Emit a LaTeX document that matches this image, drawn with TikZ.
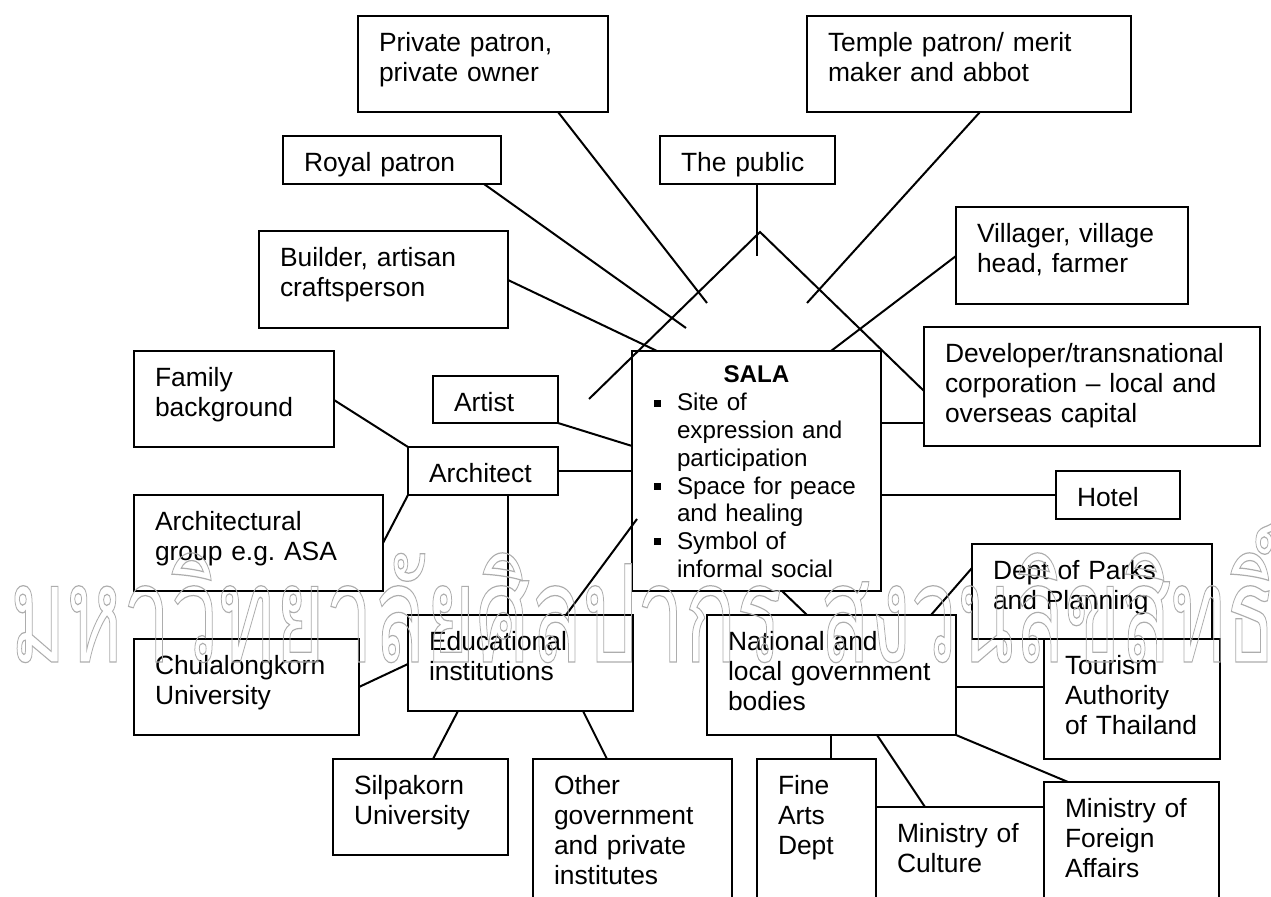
\documentclass[tikz,border=0pt]{standalone}
\usepackage{fontspec}
\setmainfont{Liberation Sans}
\newfontfamily\thaifont[Script=Thai]{Loma}
\usepackage{graphicx}
\usetikzlibrary{calc}
\newcommand\bx[5]{\node[box,anchor=north west,minimum width=#4*0.5pt,minimum height=#5*0.5pt] (#1) at (#2,#3) {};}
\newcommand\tx[2]{\node[txt] (#1t) at ($(#1.north west)+(21,36)$) {#2};}
\newcommand\bul{\makebox[11.5pt][l]{\raisebox{2.2pt}{\rule{3.3pt}{3.3pt}}}}
\newcommand\ind{\hspace*{11.5pt}}
\begin{document}
\begin{tikzpicture}[x=0.5pt,y=-0.5pt,
  box/.style={draw=black,line width=1pt,inner sep=0pt,outer sep=0pt,rectangle},
  txt/.style={inner sep=0pt,outer sep=0pt,anchor=base west,text width=175pt,align=left,
    font=\fontsize{13.2pt}{15pt}\selectfont},
  salat/.style={inner sep=0pt,outer sep=0pt,anchor=base west,text width=118pt,align=left,
    font=\fontsize{12.1pt}{13.85pt}\selectfont},
  con/.style={line width=1pt,draw=black},
  wm/.style={inner sep=0pt,outer sep=0pt,anchor=base west}]
\useasboundingbox (0,0) rectangle (1271,897);
\fill[white] (0,0) rectangle (1271,897);
\begin{scope}
\clip (0,0) rectangle (1271,897);
% boxes
\bx{pp}{358}{16}{250}{96}
\bx{tp}{807}{16}{324}{96}
\bx{rp}{283}{136}{218}{48}
\bx{pub}{660}{136}{175}{48}
\bx{bld}{259}{231}{249}{97}
\bx{vil}{956}{207}{232}{97}
\bx{dev}{924}{327}{336}{119}
\bx{fam}{134}{351}{200}{96}
\bx{art}{433}{376}{125}{47}
\bx{sala}{632}{351}{249}{240}
\bx{arc}{408}{447}{150}{48}
\bx{hot}{1056}{471}{124}{48}
\bx{agr}{134}{495}{249}{96}
\bx{dpp}{972}{544}{240}{95}
\bx{edu}{408}{615}{225}{96}
\bx{nat}{707}{615}{249}{120}
\bx{chu}{134}{639}{225}{96}
\bx{tat}{1044}{639}{176}{120}
\bx{sil}{333}{759}{175}{96}
\bx{oth}{533}{759}{199}{160}
\bx{fad}{757}{759}{119}{160}
\bx{moc}{876}{807}{168}{120}
\bx{mfa}{1044}{782}{175}{140}
% texts
\tx{pp}{Private patron,\\private owner}
\tx{tp}{Temple patron/ merit\\maker and abbot}
\tx{rp}{Royal patron}
\tx{pub}{The public}
\tx{bld}{Builder, artisan\\craftsperson}
\tx{vil}{Villager, village\\head, farmer}
\tx{dev}{Developer/transnational\\corporation – local and\\overseas capital}
\tx{fam}{Family\\background}
\tx{art}{Artist}
\tx{arc}{Architect}
\tx{hot}{Hotel}
\tx{agr}{Architectural\\group e.g.\ ASA}
\tx{dpp}{Dept of Parks\\and Planning}
\tx{edu}{Educational\\institutions}
\tx{nat}{National and\\local government\\bodies}
\tx{chu}{Chulalongkorn\\University}
\tx{tat}{Tourism\\Authority\\of Thailand}
\tx{sil}{Silpakorn\\University}
\tx{oth}{Other\\government\\and private\\institutes}
\tx{fad}{Fine\\Arts\\Dept}
\tx{moc}{Ministry of\\Culture}
\tx{mfa}{Ministry of\\Foreign\\Affairs}
\node[inner sep=0pt,outer sep=0pt,anchor=base,font=\fontsize{12.1pt}{13.85pt}\selectfont\bfseries] (salah) at ($(sala.north)+(0,32)$) {SALA};
\node[salat] (salab) at ($(sala.north west)+(22,60)$) {\bul Site of\\\ind expression and\\\ind participation\\\bul Space for peace\\\ind and healing\\\bul Symbol of\\\ind informal social};
% free ends
\coordinate (f1) at (707,303);
\coordinate (f2) at (686,328);
\coordinate (f3) at (807,303);
\coordinate (f4) at (757,256);
\coordinate (f5) at (589,399);
\coordinate (f6) at (760,232);
\coordinate (f7) at (637,519);
% connectors
\draw[con] ($(pp.south west)+(200,0)$) -- (f1);
\draw[con] ($(rp.south west)+(201,0)$) -- (f2);
\draw[con] ($(bld.north east)+(0,49)$) -- ($(sala.north west)+(25,0)$);
\draw[con] ($(tp.south west)+(173,0)$) -- (f3);
\draw[con] ($(pub.south west)+(97,0)$) -- (f4);
\draw[con] (f5) -- (f6) -- ($(dev.north west)+(0,64)$);
\draw[con] ($(vil.north west)+(0,49)$) -- ($(sala.north west)+(199,0)$);
\draw[con] ($(sala.north east)+(0,72)$) -- ($(dev.north west)+(0,96)$);
\draw[con] (art.south east) -- ($(sala.north west)+(0,95)$);
\draw[con] ($(fam.north east)+(0,49)$) -- (arc.north west);
\draw[con] ($(arc.north east)+(0,24)$) -- ($(sala.north west)+(0,120)$);
\draw[con] ($(agr.north east)+(0,48)$) -- (arc.south west);
\draw[con] ($(arc.south west)+(100,0)$) -- ($(edu.north west)+(100,0)$);
\draw[con] ($(edu.north west)+(158,0)$) -- (f7);
\draw[con] ($(chu.north east)+(0,48)$) -- ($(edu.north west)+(0,49)$);
\draw[con] ($(edu.south west)+(50,0)$) -- ($(sil.north west)+(100,0)$);
\draw[con] ($(edu.south west)+(175,0)$) -- ($(oth.north west)+(74,0)$);
\draw[con] ($(sala.south west)+(150,0)$) -- ($(nat.north west)+(100,0)$);
\draw[con] ($(sala.north east)+(0,144)$) -- ($(hot.north west)+(0,24)$);
\draw[con] ($(dpp.north west)+(0,24)$) -- ($(nat.north west)+(224,0)$);
\draw[con] ($(nat.north east)+(0,72)$) -- ($(tat.north west)+(0,48)$);
\draw[con] ($(nat.south west)+(124,0)$) -- ($(fad.north west)+(74,0)$);
\draw[con] ($(nat.south west)+(170,0)$) -- ($(moc.north west)+(49,0)$);
\draw[con] (nat.south east) -- ($(mfa.north west)+(24,0)$);
% watermark
\node[wm] (wm1) at (10,662) {\color[gray]{0.68}\special{pdf:literal direct 1 Tr 0.6 w}\resizebox{386pt}{\height}{\thaifont\fontsize{68pt}{68pt}\selectfont มหาวิทยาลัยศิลปากร}\special{pdf:literal direct 0 Tr}};
\node[wm] (wm2) at (820,662) {\color[gray]{0.68}\special{pdf:literal direct 1 Tr 0.6 w}\resizebox{228pt}{\height}{\thaifont\fontsize{68pt}{68pt}\selectfont สงวนลิขสิทธิ์}\special{pdf:literal direct 0 Tr}};
\end{scope}
\end{tikzpicture}
\end{document}
